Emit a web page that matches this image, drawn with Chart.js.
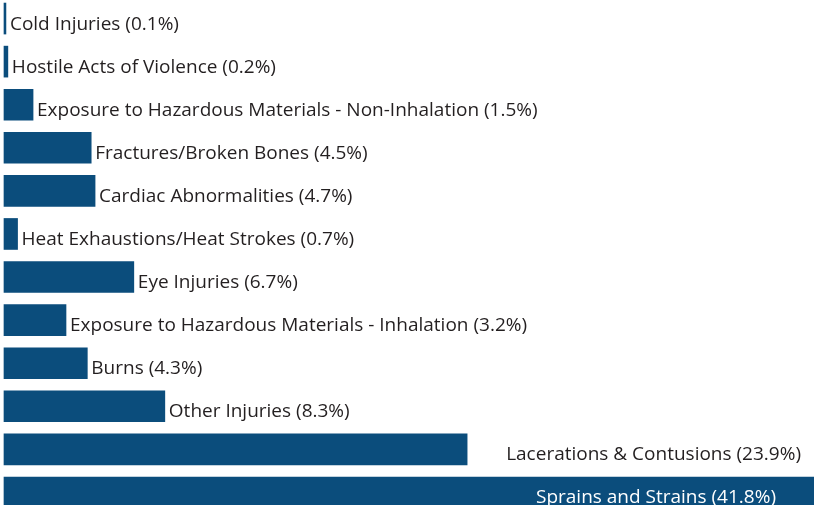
<!DOCTYPE html>
<html>
<head>
<meta charset="utf-8">
<script src="https://cdn.jsdelivr.net/npm/chart.js@4/dist/chart.umd.min.js"></script>
<style>
  html, body { margin: 0; padding: 0; background: #fff; overflow: hidden; }
  #wrap { position: absolute; left: 0; top: -3px; width: 814px; height: 517px; }
</style>
</head>
<body>
<div id="wrap"><canvas id="chart"></canvas></div>
<script>
// injury categories, top to bottom
const categories = [
    'Cold Injuries',
    'Hostile Acts of Violence',
    'Exposure to Hazardous Materials - Non-Inhalation',
    'Fractures/Broken Bones',
    'Cardiac Abnormalities',
    'Heat Exhaustions/Heat Strokes',
    'Eye Injuries',
    'Exposure to Hazardous Materials - Inhalation',
    'Burns',
    'Other Injuries',
    'Lacerations & Contusions',
    'Sprains and Strains'
];
const percents = [0.1, 0.2, 1.5, 4.5, 4.7, 0.7, 6.7, 3.2, 4.3, 8.3, 23.9, 41.8];

const barColor = '#0b4d7c';
const textColor = '#231f20';
const labelFont = '19px "Open Sans"';

// draws "Name (x%)" next to each bar
const barLabels = {
    id: 'barLabels',
    afterDatasetsDraw(chart, args, opts) {
        const ctx = chart.ctx;
        const bars = chart.getDatasetMeta(0).data;
        ctx.save();
        ctx.font = labelFont;
        ctx.textBaseline = 'alphabetic';
        bars.forEach((bar, i) => {
            const text = categories[i] + ' (' + percents[i] + '%)';
            const y = bar.y + 11;
            if (opts.inside[i] !== undefined) {
                ctx.fillStyle = '#ffffff';
                ctx.textAlign = 'right';
                ctx.fillText(text, bar.x - opts.inside[i], y);
            } else {
                ctx.fillStyle = textColor;
                ctx.textAlign = 'left';
                const gap = opts.gap[i] !== undefined ? opts.gap[i] : 4;
                ctx.fillText(text, bar.x + gap, y);
            }
        });
        ctx.restore();
    }
};

new Chart(document.querySelector('#chart').getContext('2d'), {
    type: 'bar',
    data: {
        labels: categories,
        datasets: [{
            data: percents,
            backgroundColor: barColor,
            borderWidth: 0,
            barThickness: 31
        }]
    },
    options: {
        indexAxis: 'y',
        responsive: true,
        maintainAspectRatio: false,
        animation: false,
        layout: { padding: 0 },
        scales: {
            x: { display: false, min: -0.206, max: 41.8 },
            y: { display: false }
        },
        plugins: {
            legend: { display: false },
            tooltip: { enabled: false },
            barLabels: {
                gap: { 10: 39 },
                inside: { 11: 38 }
            }
        }
    },
    plugins: [barLabels]
});
</script>
</body>
</html>
